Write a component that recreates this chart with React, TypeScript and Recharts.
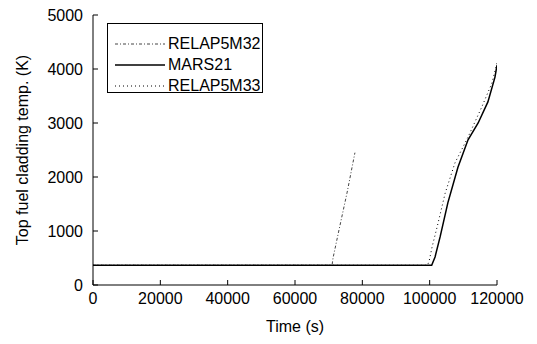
import React from "react";
import { LineChart, Line, XAxis, YAxis, Legend } from "recharts";

// time (s) / temperature (K)
const relap32Time = [0, 71000, 71300, 73000, 75500, 77800];
const relap32Temp = [365, 365, 500, 1000, 1720, 2450];

const marsTime = [0, 100600, 101600, 103100, 105400, 108400, 111400, 114400, 117300, 119400, 120000];
const marsTemp = [365, 365, 520, 890, 1520, 2180, 2690, 3000, 3390, 3850, 4070];

const relap33Time = [0, 99300, 99800, 100700, 102200, 104600, 107500, 111400, 115500, 118500, 120000];
const relap33Temp = [365, 365, 430, 700, 1070, 1700, 2260, 2740, 3300, 3740, 4110];

const xTicks = [0, 20000, 40000, 60000, 80000, 100000, 120000];
const yTicks = [0, 1000, 2000, 3000, 4000, 5000];

const toRows = (t: number[], v: number[]) => t.map((x, i) => ({ t: x, v: v[i] }));

const FONT = "'Liberation Sans', Arial, sans-serif";

const series = [
  { name: "RELAP5M32", data: toRows(relap32Time, relap32Temp), stroke: "#444", width: 1, dash: "3 2 1 2" },
  { name: "MARS21", data: toRows(marsTime, marsTemp), stroke: "#000", width: 1.5, dash: undefined },
  { name: "RELAP5M33", data: toRows(relap33Time, relap33Temp), stroke: "#000", width: 1, dash: "1 3" },
];

function BottomTick({ x, y, payload }: any) {
  return (
    <g>
      <line x1={x} y1={y} x2={x} y2={y - 5} stroke="#000" />
      <text x={x} y={y + 19} textAnchor="middle" fontSize={16} fontFamily={FONT} fill="#000">
        {payload.value}
      </text>
    </g>
  );
}
function TopTick({ x, y }: any) {
  return <line x1={x} y1={y} x2={x} y2={y + 5} stroke="#000" />;
}
function LeftTick({ x, y, payload }: any) {
  return (
    <g>
      <line x1={x} y1={y} x2={x + 5} y2={y} stroke="#000" />
      <text x={x - 10} y={y} dy="0.35em" textAnchor="end" fontSize={16} fontFamily={FONT} fill="#000">
        {payload.value}
      </text>
    </g>
  );
}
function RightTick({ x, y }: any) {
  return <line x1={x} y1={y} x2={x - 5} y2={y} stroke="#000" />;
}

function LegendBox() {
  return (
    <div
      style={{
        border: "1px solid #000",
        background: "#fff",
        width: 156,
        height: 70,
        boxSizing: "border-box",
        paddingTop: 9,
        fontFamily: FONT,
        fontSize: 16,
        textAlign: "left",
      }}
    >
      {series.map((s) => (
        <div key={s.name} style={{ display: "flex", alignItems: "center", height: 21, whiteSpace: "nowrap" }}>
          <svg width={52} height={10} style={{ marginLeft: 6, flexShrink: 0 }}>
            <line x1={1} y1={5} x2={51} y2={5} stroke={s.stroke} strokeWidth={s.width} strokeDasharray={s.dash} />
          </svg>
          <span style={{ marginLeft: 2 }}>{s.name}</span>
        </div>
      ))}
    </div>
  );
}

export default function App() {
  return (
    <div style={{ position: "absolute", left: 0, top: 0, background: "#fff" }}>
      <LineChart width={537} height={344} margin={{ top: 15, right: 40, bottom: 0, left: 0 }}>
        <XAxis
          xAxisId="b"
          dataKey="t"
          type="number"
          domain={[0, 120000]}
          ticks={xTicks}
          interval={0}
          height={59}
          tickSize={0}
          tickMargin={0}
          tick={<BottomTick />}
          stroke="#000"
          allowDataOverflow
          label={{ value: "Time (s)", position: "insideBottom", offset: 12, fontSize: 16, fontFamily: FONT, fill: "#000" }}
        />
        <XAxis
          xAxisId="t"
          orientation="top"
          type="number"
          domain={[0, 120000]}
          ticks={xTicks}
          interval={0}
          height={0}
          tickSize={0}
          tickMargin={0}
          tick={<TopTick />}
          stroke="#000"
          allowDataOverflow
        />
        <YAxis
          yAxisId="l"
          type="number"
          domain={[0, 5000]}
          ticks={yTicks}
          interval={0}
          width={93}
          tickSize={0}
          tickMargin={0}
          tick={<LeftTick />}
          stroke="#000"
          allowDataOverflow
          label={{
            value: "Top fuel cladding temp. (K)",
            angle: -90,
            position: "insideLeft",
            offset: 22,
            fontSize: 16,
            fontFamily: FONT,
            fill: "#000",
            style: { textAnchor: "middle" },
          }}
        />
        <YAxis
          yAxisId="r"
          orientation="right"
          type="number"
          domain={[0, 5000]}
          ticks={yTicks}
          interval={0}
          width={0}
          tickSize={0}
          tickMargin={0}
          tick={<RightTick />}
          stroke="#000"
          allowDataOverflow
        />
        <Legend
          layout="horizontal"
          verticalAlign="middle"
          align="center"
          wrapperStyle={{ position: "absolute", left: 107, top: 23, width: 156 }}
          content={<LegendBox />}
        />
        {series.map((s) => (
          <Line
            key={s.name}
            xAxisId="b"
            yAxisId="l"
            data={s.data}
            dataKey="v"
            name={s.name}
            type="linear"
            stroke={s.stroke}
            strokeWidth={s.width}
            strokeDasharray={s.dash}
            dot={false}
            activeDot={false}
            isAnimationActive={false}
          />
        ))}
      </LineChart>
    </div>
  );
}
